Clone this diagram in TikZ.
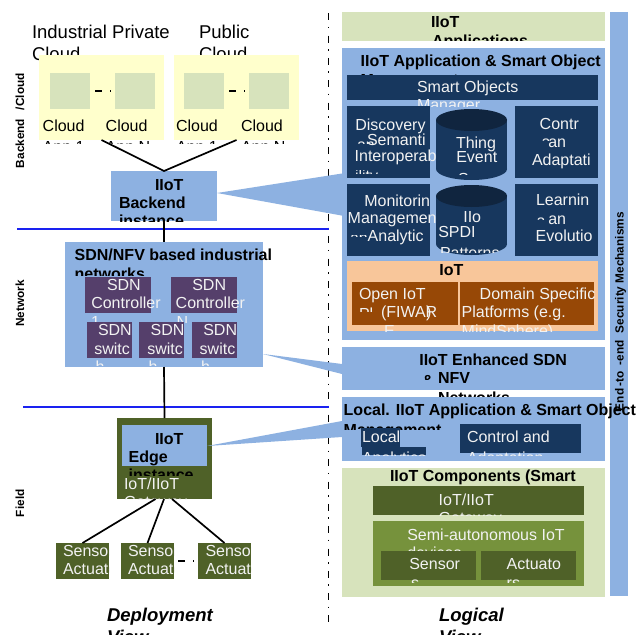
\documentclass[tikz,border=0pt]{standalone}
\usepackage{fontspec}
\setmainfont{Liberation Sans}
\definecolor{bluebox}{HTML}{8DB1E1}
\definecolor{yel}{HTML}{FFFFCC}
\definecolor{sage}{HTML}{D7E3BC}
\definecolor{plum}{HTML}{553F6B}
\definecolor{olive}{HTML}{4F6128}
\definecolor{moss}{HTML}{76923C}
\definecolor{navy}{HTML}{17375E}
\definecolor{navytop}{HTML}{10253F}
\definecolor{peach}{HTML}{F8C69A}
\definecolor{rust}{HTML}{974806}
\definecolor{netblue}{HTML}{1A22F0}
\definecolor{wtxt}{HTML}{F2F2F2}
\tikzset{
  txt/.style={anchor=base west,inner sep=0pt,outer sep=0pt,font=\fontsize{16}{18}\selectfont,text=black},
  wh/.style={text=wtxt},
  bd/.style={font=\fontsize{16}{18}\selectfont\bfseries},
  big/.style={font=\fontsize{18.5}{21}\selectfont},
  bigbi/.style={font=\fontsize{18.5}{21}\selectfont\bfseries\itshape},
  vert/.style={rotate=90,font=\fontsize{11.8}{14}\selectfont\bfseries},
  bx/.style={rectangle,draw=none,anchor=north west,inner sep=0pt,outer sep=0pt},
  link/.style={draw=black,line width=1.7pt},
  dots/.style={draw=black,line width=1.8pt,dash pattern=on 0pt off 5pt on 7pt off 8pt on 1pt off 100pt},
  netline/.style={draw=netblue,line width=1.5pt},
}
\newcommand\tx[7][]{\begin{scope}\clip (0,#5) rectangle (700,#6);\node[txt,#1] (#2) at (#3,#4) {#7};\end{scope}}
\newcommand\bxx[6]{\node[bx,fill=#1,minimum width={(#5-#3)*1pt},minimum height={(#6-#4)*1pt}] (#2) at (#3,#4) {};}
\newcommand\cyl[5]{%
  \fill[navy] (#1,#3) rectangle (#2,#4);
  \fill[navy] ({(#1+#2)/2},#4) ellipse [x radius={(#2-#1)/2},y radius=#5];
  \fill[navytop] ({(#1+#2)/2},#3) ellipse [x radius={(#2-#1)/2},y radius=#5];}
\begin{document}
\begin{tikzpicture}[x=1pt,y=-1pt]
\useasboundingbox (0,0) rectangle (636,634);
\clip (0,0) rectangle (636,634);
\fill[white] (0,0) rectangle (636,634);
% separators
\draw[black,line width=1.6pt,dash pattern=on 7pt off 6.5pt on 1.5pt off 7.3pt] (328.5,13.3) -- (328.5,622);
\coordinate (n1a) at (17,229); \coordinate (n1b) at (329,229);
\coordinate (n2a) at (23,407); \coordinate (n2b) at (329,407);
\draw[netline] (n1a) -- (n1b);
\draw[netline] (n2a) -- (n2b);
% deployment: clouds
\tx[big]{a1}{32}{38.7}{0}{634}{Industrial Private}
\tx[big]{a2}{32}{60}{0}{634}{Cloud}
\tx[big]{a3}{199}{38.7}{0}{634}{Public}
\tx[big]{a4}{199}{60}{0}{634}{Cloud}
\bxx{yel}{priv}{39}{55}{164}{140}
\bxx{yel}{pub}{174}{55}{299}{140}
\bxx{sage}{ca1}{50}{73}{90}{109}
\bxx{sage}{ca2}{115}{73}{155}{109}
\bxx{sage}{cb1}{184}{73}{224}{109}
\bxx{sage}{cb2}{249}{73}{289}{109}
\draw[dots] (ca1.east) -- (ca2.west);
\draw[dots] (cb1.east) -- (cb2.west);
\tx{c1}{42.7}{131}{0}{143.5}{Cloud}
\tx{c1b}{42.7}{152.6}{0}{143.5}{App 1}
\tx{c2}{105.7}{131}{0}{143.5}{Cloud}
\tx{c2b}{105.7}{152.6}{0}{143.5}{App N}
\tx{c3}{176}{131}{0}{143.5}{Cloud}
\tx{c3b}{176}{152.6}{0}{143.5}{App 1}
\tx{c4}{241}{131}{0}{143.5}{Cloud}
\tx{c4b}{241}{152.6}{0}{143.5}{App N}
\tx[vert]{v1}{24}{168}{0}{634}{Backend}
\tx[vert]{v2}{24}{110}{0}{634}{/Cloud}
\tx[vert]{v3}{24}{326.7}{0}{634}{Network}
\tx[vert]{v4}{24}{517}{0}{634}{Field}
% backend instance
\bxx{bluebox}{back}{111}{171}{217}{221}
\draw[link] (priv.south) -- (back.north) -- (pub.south);
\tx[bd]{b1}{155}{190}{0}{221}{IIoT}
\tx[bd]{b2}{119}{208}{0}{221}{Backend}
\tx[bd]{b3}{119}{226.5}{0}{221}{instance}
% SDN box
\bxx{bluebox}{sdn}{65}{242}{263}{367}
\draw[link] (back.south) -- (sdn.north);
\tx[bd]{s0}{74.7}{260.7}{0}{634}{SDN/NFV based industrial}
\tx[bd]{s0b}{74.7}{279}{0}{275}{networks}
\bxx{plum}{ctl1}{85}{277}{151}{313}
\bxx{plum}{ctl2}{171}{277}{237}{313}
\tx[wh]{k1}{107}{290.7}{0}{634}{SDN}
\tx[wh]{k2}{91.3}{308.7}{0}{634}{Controller}
\tx[wh]{k3}{91}{327}{0}{322}{1}
\tx[wh]{k4}{192.3}{290.7}{0}{634}{SDN}
\tx[wh]{k5}{175.7}{308.7}{0}{634}{Controller}
\tx[wh]{k6}{176.7}{327}{0}{322}{N}
\bxx{plum}{sw1}{87}{322}{132}{358}
\bxx{plum}{sw2}{139}{322}{184}{358}
\bxx{plum}{sw3}{192}{322}{237}{358}
\tx[wh]{w1}{98}{335.3}{0}{634}{SDN}
\tx[wh]{w2}{94.3}{354}{0}{634}{switc}
\tx[wh]{w3}{95.5}{372.4}{0}{365}{h}
\tx[wh]{w4}{150.7}{335.3}{0}{634}{SDN}
\tx[wh]{w5}{147.3}{354}{0}{634}{switc}
\tx[wh]{w6}{148.5}{372.4}{0}{365}{h}
\tx[wh]{w7}{203.3}{335.3}{0}{634}{SDN}
\tx[wh]{w8}{199.7}{354}{0}{634}{switc}
\tx[wh]{w9}{201}{372.4}{0}{365}{h}
% edge
\bxx{olive}{edge}{117}{418}{212}{499}
\draw[link] (sdn.south) -- (edge.north);
\bxx{bluebox}{edgein}{122}{425}{207}{466}
\tx[bd]{e1}{155}{444}{0}{634}{IIoT}
\tx[bd]{e2}{128.7}{462}{0}{634}{Edge}
\tx[bd]{e3}{128.7}{480.5}{0}{475}{instance}
\tx[wh]{e4}{124}{489.3}{0}{499}{IoT/IIoT}
\tx[wh]{e5}{124}{507.7}{0}{499}{Gateway}
% sensors
\bxx{olive}{sa}{56}{543}{109}{579}
\bxx{olive}{sb}{121}{543}{174}{579}
\bxx{olive}{sc}{198}{543}{251}{579}
\draw[link] ([xshift=-9pt]edge.south) -- (sa.north);
\draw[link] ([xshift=-.5pt]edge.south) -- (sb.north);
\draw[link] ([xshift=7.5pt]edge.south) -- (sc.north);
\draw[dots,dash pattern=on 0pt off 4pt on 7pt off 8pt on 1pt off 100pt] (sb.east) -- (sc.west);
\begin{scope}\clip (56,543) rectangle (109,579);
\node[txt,wh] (t1) at (63,556) {Sensor}; \node[txt,wh] (t2) at (63,574) {Actuator};
\end{scope}
\begin{scope}\clip (121,543) rectangle (174,579);
\node[txt,wh] (t3) at (128,556) {Sensor}; \node[txt,wh] (t4) at (128,574) {Actuator};
\end{scope}
\begin{scope}\clip (198,543) rectangle (251,579);
\node[txt,wh] (t5) at (205.5,556) {Sensor}; \node[txt,wh] (t6) at (205.5,574) {Actuator};
\end{scope}
\tx[bigbi]{d1}{107}{621.7}{0}{634}{Deployment}
\tx[bigbi]{d2}{107}{643}{0}{634}{View}
% callouts
\fill[bluebox] (217,193) -- (342,173.5) -- (347,216.5) -- cycle;
\fill[bluebox] (263,354) -- (342,364) -- (342,374) -- cycle;
\fill[bluebox] (207,446) -- (342,421) -- (342,437) -- cycle;
% side bar
\bxx{bluebox}{side}{610}{12}{628}{596}
\tx[vert]{side1}{623.5}{411}{0}{634}{End}
\tx[vert]{side2}{623.5}{386}{0}{634}{-to}
\tx[vert]{side3}{623.5}{365}{0}{634}{-end}
\tx[vert]{side4}{623.5}{333}{0}{634}{Security Mechanisms}
% logical
\bxx{sage}{apps}{342}{12}{605}{41}
\tx[bd]{l1}{431}{27.7}{0}{634}{IIoT}
\tx[bd]{l2}{432}{46}{0}{41}{Applications}
\bxx{bluebox}{mgmt}{342}{48}{605}{340}
\tx[bd]{m1}{360.7}{66.7}{0}{634}{IIoT Application \& Smart Object}
\tx[bd]{m2}{360.7}{85}{0}{75}{Management}
\bxx{navy}{so}{347}{75}{598}{100}
\tx[wh]{so1}{417}{92.3}{0}{634}{Smart Objects}
\tx[wh]{so2}{417}{110.7}{0}{106}{Manager}
\bxx{navy}{disc}{347}{106}{430}{178}
\bxx{navy}{ctrl}{515}{106}{598}{178}
\bxx{navy}{moni}{347}{184}{430}{256}
\bxx{navy}{lear}{515}{184}{598}{256}
\cyl{436}{507}{120}{169}{11}
\cyl{436}{507}{196}{244}{11}
\tx[wh]{q1}{355.3}{130.7}{0}{634}{Discovery}
\tx[wh]{q2}{367}{145.7}{0}{634}{Semanti}
\tx[wh]{q3}{354.7}{161}{0}{634}{Interoperab}
\tx[wh]{q4}{357}{150.5}{141.6}{143}{an}
\tx[wh]{q5}{355}{181.5}{170}{173}{ility}
\tx[wh]{h1}{456}{148}{0}{634}{Thing}
\tx[wh]{h2}{456.3}{162}{0}{634}{Event}
\tx[wh]{h3}{458}{184}{172.5}{174}{S}
\tx[wh]{r1}{539.7}{129.3}{0}{634}{Contr}
\tx[wh]{r2}{548.3}{147}{0}{634}{an}
\tx[wh]{r3}{532}{165}{0}{634}{Adaptati}
\tx[wh]{r4}{541.5}{147}{138.5}{140}{a}
\tx[wh]{r5}{534}{187}{175.3}{177}{on}
\tx[wh]{u1}{364.3}{206}{0}{634}{Monitorin}
\tx[wh]{u2}{347.7}{223}{0}{634}{Managemen}
\tx[wh]{u3}{367.7}{241.3}{0}{634}{Analytic}
\tx[wh]{u4}{350}{243.5}{235}{236.5}{an}
\tx[wh]{u5}{370}{264}{252.5}{254}{s}
\tx[wh]{p1}{463.3}{222}{0}{634}{IIo}
\tx[wh]{p2}{438.3}{237}{0}{634}{SPDI}
\tx[wh]{p3}{440}{258.5}{0}{252}{Patterns}
\tx[wh]{x1}{536}{205.7}{0}{634}{Learnin}
\tx[wh]{x2}{548.3}{224}{0}{634}{an}
\tx[wh]{x3}{535.7}{241.3}{0}{634}{Evolutio}
\tx[wh]{x4}{536.5}{226}{217.5}{219}{a}
\tx[wh]{x5}{536}{264}{252.5}{254}{n}
% IoT platforms
\bxx{peach}{iot}{347}{261}{598}{331}
\tx[bd]{i1}{439.3}{275}{0}{634}{IoT}
\bxx{rust}{open}{352}{282}{458}{325}
\bxx{rust}{dom}{460}{282}{594}{325}
\tx[wh]{i2}{359}{299.3}{0}{634}{Open IoT}
\tx[wh]{i3}{359}{319.5}{307.7}{311}{Pl}
\tx[wh]{i4}{381}{317.7}{0}{634}{(FIWAR}
\tx[wh]{i4b}{426}{317.7}{0}{634}{)}
\tx[wh]{i5}{384}{336.5}{0}{331}{E}
\begin{scope}\clip (0,0) rectangle (594,634);
\node[txt,wh] (i6) at (479.7,299.3) {Domain Specific};
\end{scope}
\tx[wh]{i7}{461.7}{317.7}{0}{634}{Platforms (e.g.}
\tx[wh]{i8}{461.7}{336.5}{0}{331}{MindSphere)}
% SDN logical
\bxx{bluebox}{enh}{342}{347}{605}{390}
\tx[bd]{n1}{419.3}{365.7}{0}{634}{IIoT Enhanced SDN}
\tx[bd]{n2}{422}{386}{374.5}{379}{\&}
\tx[bd]{n3}{438}{383.7}{0}{634}{NFV}
\tx[bd]{n4}{438}{403.5}{0}{634}{Networks}
% local
\bxx{bluebox}{loc}{342}{397}{605}{461}
\tx[bd]{o1}{343.7}{415}{0}{634}{Local. IIoT Application \& Smart Object}
\tx[bd]{o2}{343.7}{435.5}{0}{429}{Management}
\bxx{navy}{lha}{361}{428}{400}{447}
\bxx{navy}{lhb}{362}{447}{426}{455}
\bxx{navy}{cad}{460}{424}{581}{453}
\tx[wh]{o3}{362}{442.7}{0}{634}{Local}
\tx[wh]{o4}{362}{463}{0}{455}{Analytics}
\tx[wh]{o5}{467}{442.7}{0}{634}{Control and}
\tx[wh]{o6}{467}{463.5}{0}{455}{Adaptation}
% components
\bxx{sage}{comp}{342}{468}{605}{597}
\tx[bd]{g1}{390}{481.7}{0}{634}{IIoT Components (Smart}
\bxx{olive}{gw}{373}{486}{584}{515}
\tx[wh]{g2}{438.7}{505}{0}{634}{IoT/IIoT}
\tx[wh]{g3}{438.7}{523.5}{0}{515}{Gateway}
\bxx{moss}{semi}{373}{521}{584}{586}
\tx[wh]{g4}{407.3}{540}{0}{634}{Semi-autonomous IoT}
\tx[wh]{g5}{407.3}{558.5}{0}{551}{devices}
\bxx{olive}{sen}{381}{551}{476}{580}
\bxx{olive}{act}{481}{551}{576}{580}
\tx[wh]{g6}{409.3}{569}{0}{634}{Sensor}
\tx[wh]{g7}{411}{588.5}{0}{582.5}{s}
\tx[wh]{g8}{506.7}{569}{0}{634}{Actuato}
\tx[wh]{g9}{506.7}{588.5}{0}{582.5}{rs}
\tx[bigbi]{d3}{439}{621.7}{0}{634}{Logical}
\tx[bigbi]{d4}{439}{643}{0}{634}{View}
\end{tikzpicture}
\end{document}
